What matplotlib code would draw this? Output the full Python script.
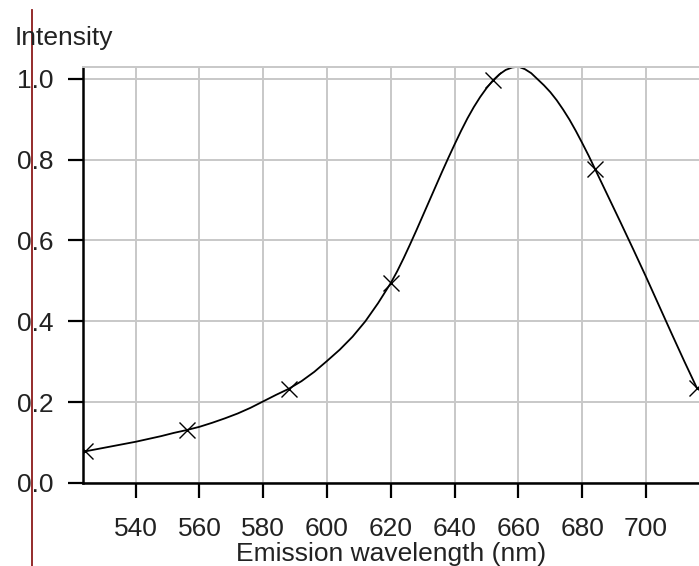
import matplotlib
matplotlib.use("Agg")
import matplotlib.pyplot as plt
from matplotlib.lines import Line2D

# 曲線
curve_nm = [524, 528, 532, 536, 540, 544, 548, 552, 556, 560, 564, 568, 572, 576,
            580, 584, 588, 592, 596, 600, 604, 608, 612, 616, 620, 622, 624, 626,
            628, 630, 632, 634, 636, 638, 640, 642, 644, 646, 648, 650, 652, 654,
            656, 658, 660, 662, 664, 666, 668, 670, 672, 674, 676, 678, 680, 682,
            684, 686, 688, 690, 692, 696, 700, 704, 708, 712, 716]
curve_val = [0.078, 0.084, 0.090, 0.096, 0.102, 0.109, 0.116, 0.124, 0.131, 0.139,
             0.149, 0.160, 0.172, 0.186, 0.202, 0.218, 0.233, 0.252, 0.275, 0.302,
             0.330, 0.362, 0.400, 0.445, 0.495, 0.524, 0.556, 0.590, 0.625, 0.661,
             0.697, 0.733, 0.769, 0.804, 0.838, 0.871, 0.902, 0.930, 0.955, 0.977,
             0.996, 1.011, 1.022, 1.028, 1.030, 1.024, 1.014, 0.999, 0.984, 0.967,
             0.947, 0.924, 0.899, 0.871, 0.841, 0.810, 0.777, 0.744, 0.711, 0.678,
             0.645, 0.578, 0.510, 0.440, 0.370, 0.301, 0.234]

# マーカー
marker_nm = [524, 556, 588, 620, 652, 684, 716]
marker_val = [0.078, 0.131, 0.233, 0.495, 0.997, 0.777, 0.234]

x_ticks = [540, 560, 580, 600, 620, 640, 660, 680, 700]
y_ticks = [0.0, 0.2, 0.4, 0.6, 0.8, 1.0]

plt.rcParams['font.family'] = ['Liberation Sans', 'DejaVu Sans']

W, H = 699, 566
fig = plt.figure(figsize=(W / 100, H / 100), dpi=100)
ax = fig.add_axes([83 / W, (H - 483) / H, (W - 83) / W, (483 - 66.7) / H])

ax.plot(curve_nm, curve_val, color="black", linewidth=1.3)
ax.plot(marker_nm, marker_val, linestyle="none", marker="x", markersize=11,
        markeredgewidth=1.0, color="black")

ax.set_xlim(523.5, 716.6)
ax.set_ylim(0, 1.03)
ax.set_xticks(x_ticks)
ax.set_yticks(y_ticks)
ax.set_yticklabels(["%.1f" % v for v in y_ticks])
ax.grid(True, color="#c8c8c8", linewidth=1.4)
ax.set_axisbelow(True)

for s in ["left", "bottom"]:
    ax.spines[s].set_color("black")
    ax.spines[s].set_linewidth(1.8)
ax.spines["top"].set_color("#c8c8c8")
ax.spines["top"].set_linewidth(1.4)
ax.spines["right"].set_visible(False)

fs = 19
ax.tick_params(axis="both", direction="out", length=10.5, width=1.6,
               labelsize=fs, labelcolor="#222222", color="black")
ax.tick_params(axis="x", pad=14)
ax.tick_params(axis="y", pad=11)

ax.set_xlabel("Emission wavelength (nm)", fontsize=fs, color="#222222", labelpad=1)
fig.text(15 / W, (H - 38) / H, "Intensity", fontsize=fs, color="#222222",
         ha="left", va="center")

# 左の赤い縦線
fig.add_artist(Line2D([32 / W, 32 / W], [0, (H - 10) / H], color="#8b1a1a",
                      linewidth=1.3, transform=fig.transFigure))

fig.savefig("out.png", dpi=100)
